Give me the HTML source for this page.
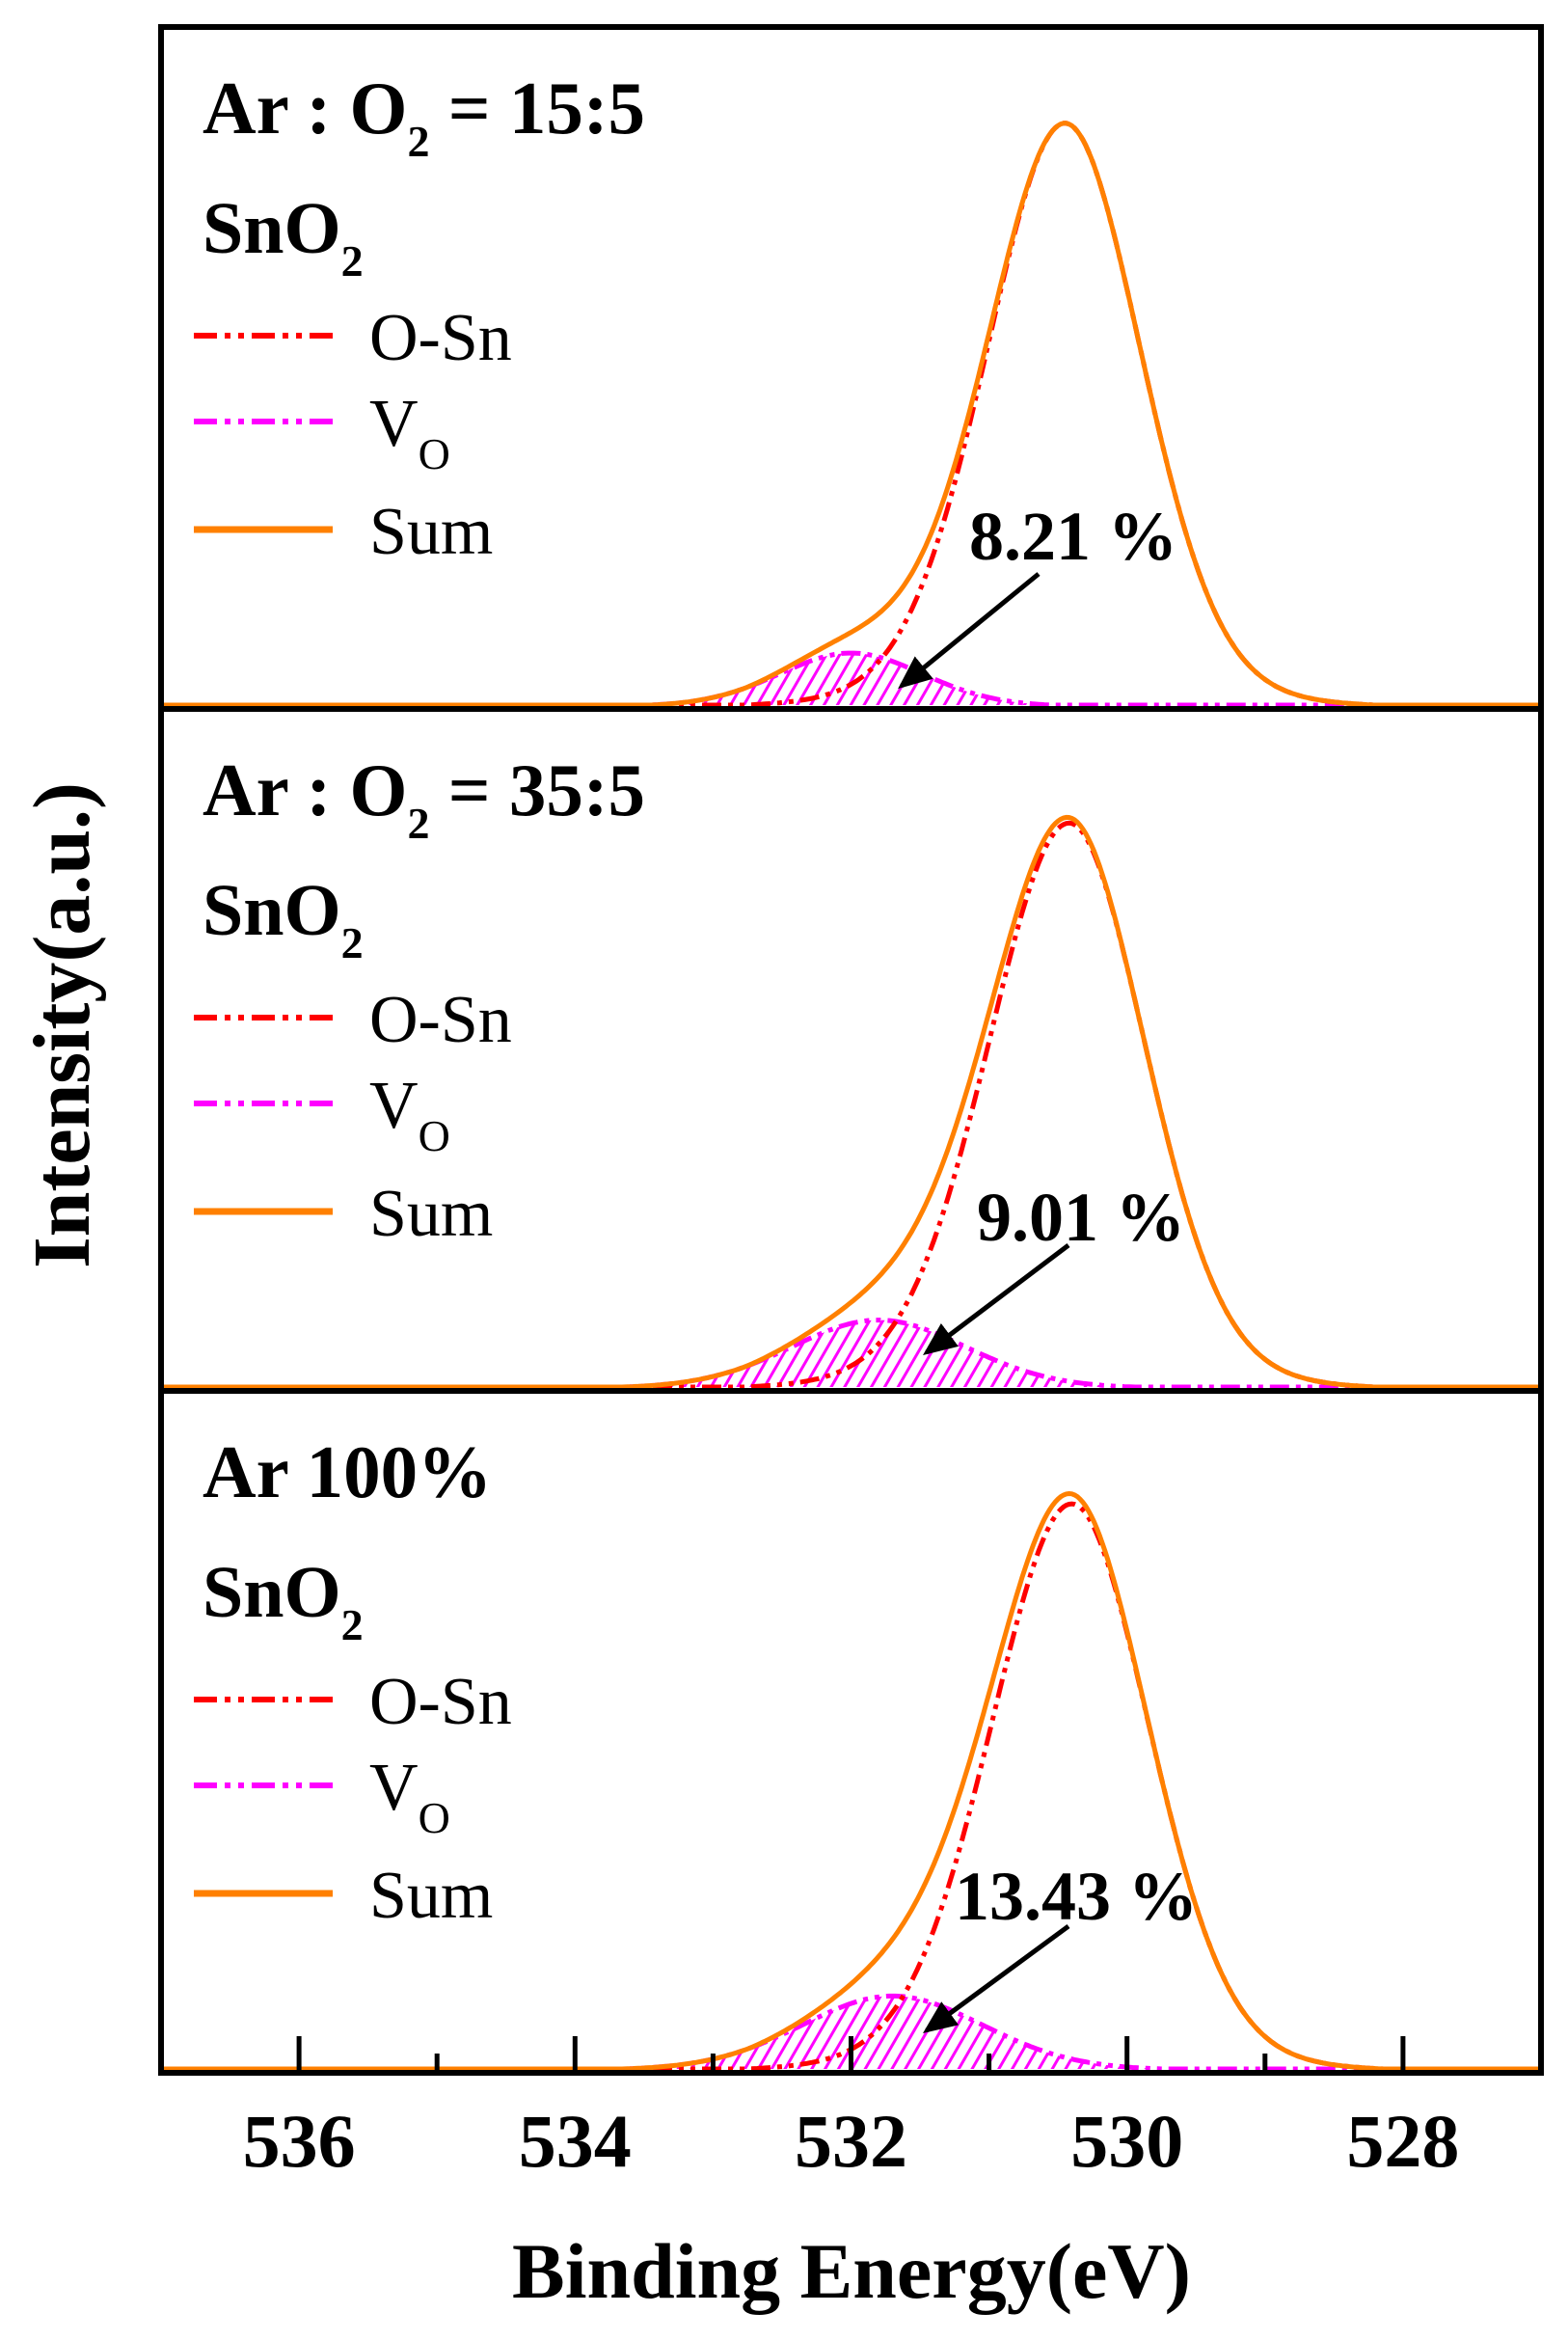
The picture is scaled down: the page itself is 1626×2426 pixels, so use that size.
<!DOCTYPE html>
<html><head><meta charset="utf-8"><style>
html,body{margin:0;padding:0;background:#fff;}
svg{display:block;font-family:"Liberation Serif",serif;}
</style></head><body>
<svg id="chart" width="1626" height="2426" viewBox="0 0 1626 2426" xmlns="http://www.w3.org/2000/svg">
<defs>
<pattern id="hatch" patternUnits="userSpaceOnUse" width="12" height="12" patternTransform="rotate(30)">
<rect width="12" height="12" fill="#fff"/>
<line x1="0" y1="0" x2="0" y2="12" stroke="#ff00ff" stroke-width="6"/>
</pattern>
<marker id="arrowhead" markerWidth="7" markerHeight="6" refX="6" refY="3" orient="auto" markerUnits="strokeWidth">
<path d="M0,0 L7,3 L0,6 Z" fill="#000"/>
</marker>
</defs>
<g id="plots"></g>
<text x="0" y="0" transform="translate(92,1063) rotate(-90)" text-anchor="middle" font-size="84" font-weight="bold">Intensity(a.u.)</text>
<text x="883" y="2382" text-anchor="middle" font-size="82" font-weight="bold">Binding Energy(eV)</text>
</svg>
<script>
// data
const panelTitles = ["Ar : O|2| = 15:5", "Ar : O|2| = 35:5", "Ar 100%"];
const percentLabels = ["8.21 %", "9.01 %", "13.43 %"];
const osnCenter = [530.45, 530.42, 530.40];
const osnHeight = [0.985, 0.955, 0.957];
const osnLeftHwhm = [0.68, 0.7, 0.7];
const osnRightHwhm = [0.66, 0.66, 0.67];
const voCenter = [532.0, 531.8, 531.7];
const voHeight = [0.09, 0.115, 0.125];
const voHwhm = [0.62, 0.75, 0.78];
const lorentzFraction = [0.15, 0.15, 0.15];
const xTicks = [536, 534, 532, 530, 528];
const xMinorTicks = [535, 533, 531, 529];

const svgNS = "http://www.w3.org/2000/svg";
const plots = document.getElementById('plots');
const L = 167, R = 1598, top0 = 28, panelH = 707;
const xE = e => L + (537 - e) * (R - L) / 10;
function mk(tag, attrs, parent) {
  const el = document.createElementNS(svgNS, tag);
  for (const k in attrs) el.setAttribute(k, attrs[k]);
  (parent || plots).appendChild(el);
  return el;
}
function gl(x, c, h, hl, hr, m) {
  const w = x > c ? hl : hr; // higher binding energy = left side
  const u = (x - c) / w;
  return h * ((1 - m) * Math.exp(-Math.LN2 * u * u) + m / (1 + u * u));
}
const arrows = [[1077, 595, 935, 711], [1108, 1291, 961, 1402], [1108, 1997, 961, 2105]];
const pctPos = [[1005, 580], [1013, 1286], [990, 1990]];

for (let p = 0; p < 3; p++) {
  const pt = top0 + p * panelH, pb = pt + panelH;
  const base = pb - 4, scale = 620;
  const yV = v => base - v * scale;
  const grp = mk('g', {});
  
  
  let dO = '', dV = '', dS = '';
  const m = lorentzFraction[p];
  for (let i = 0; i <= 500; i++) {
    const e = 537 - i * 10 / 500;
    let o = gl(e, osnCenter[p], osnHeight[p], osnLeftHwhm[p], osnRightHwhm[p], m);
    let v = gl(e, voCenter[p], voHeight[p], voHwhm[p], voHwhm[p], m * 0.6);
    o = Math.max(0, o - 0.012); v = Math.max(0, v - 0.003);
    const c = i ? 'L' : 'M';
    dO += c + xE(e).toFixed(1) + ',' + yV(o).toFixed(1);
    dV += c + xE(e).toFixed(1) + ',' + yV(v).toFixed(1);
    dS += c + xE(e).toFixed(1) + ',' + yV(o + v).toFixed(1);
  }
  const fill = mk('path', {d: dV + 'L' + R + ',' + base + 'L' + L + ',' + base + 'Z', fill: 'url(#hatch)', stroke: 'none'}, grp);
  
  
  const vl = mk('path', {d: dV, fill: 'none', stroke: '#ff00ff', 'stroke-width': 5, 'stroke-dasharray': '20 7 5 7 5 7'}, grp);
  
  
  const ol = mk('path', {d: dO, fill: 'none', stroke: '#ff0000', 'stroke-width': 5, 'stroke-dasharray': '20 7 5 7 5 7'}, grp);
  
  
  const sl = mk('path', {d: dS, fill: 'none', stroke: '#ff8000', 'stroke-width': 5}, grp);
  
  
  const fr = mk('rect', {x: L, y: pt, width: R - L, height: panelH, fill: 'none', stroke: '#000', 'stroke-width': 6}, grp);
  
  
  // title
  const parts = panelTitles[p].split('|');
  const t = mk('text', {x: 210, y: pt + 110, 'font-size': 77, 'font-weight': 'bold'}, grp);
  
  
  t.appendChild(document.createTextNode(parts[0]));
  if (parts.length > 1) {
    const s = mk('tspan', {dy: 24, 'font-size': 46}, t); s.textContent = parts[1];
    const r = mk('tspan', {dy: -24}, t); r.textContent = parts[2];
  }
  const sn = mk('text', {x: 210, y: pt + 234, 'font-size': 76, 'font-weight': 'bold'}, grp);
  
  
  sn.appendChild(document.createTextNode('SnO'));
  const sub = mk('tspan', {dy: 24, 'font-size': 46}, sn); sub.textContent = '2';
  // legend
  const leg = [['O-Sn', '#ff0000', true, 320], ['V', '#ff00ff', true, 409], ['Sum', '#ff8000', false, 521]];
  leg.forEach(([name, col, dash, yy]) => {
    const ln = mk('line', {x1: 201, x2: 345, y1: pt + yy, y2: pt + yy, stroke: col, 'stroke-width': dash ? 6 : 7, 'stroke-dasharray': dash ? '24 8 6 8 6 8' : 'none'}, grp);
    
    
    const tx = mk('text', {x: 383, y: pt + yy + 25, 'font-size': 70}, grp);
    
    
    tx.appendChild(document.createTextNode(name));
    if (name === 'V') { const s2 = mk('tspan', {dy: 24, 'font-size': 46}, tx); s2.textContent = 'O'; }
  });
  // percent label and arrow
  const pl = mk('text', {x: pctPos[p][0], y: pctPos[p][1], 'font-size': 72, 'font-weight': 'bold'}, grp);
  
  
  pl.textContent = percentLabels[p];
  const a = arrows[p];
  const ar = mk('line', {x1: a[0], y1: a[1], x2: a[2], y2: a[3], stroke: '#000', 'stroke-width': 5, 'marker-end': 'url(#arrowhead)'}, grp);
  
  
}
// ticks on bottom panel
const bot = top0 + 3 * panelH;
xTicks.forEach(v => {
  const tk = mk('line', {x1: xE(v), x2: xE(v), y1: bot, y2: bot - 38, stroke: '#000', 'stroke-width': 5});
  
  
  const lb = mk('text', {x: xE(v), y: bot + 97, 'text-anchor': 'middle', 'font-size': 78, 'font-weight': 'bold'});
  
  
  lb.textContent = v;
});
xMinorTicks.forEach(v => {
  const tk = mk('line', {x1: xE(v), x2: xE(v), y1: bot, y2: bot - 20, stroke: '#000', 'stroke-width': 5});
  
  
});
</script>
</body></html>
